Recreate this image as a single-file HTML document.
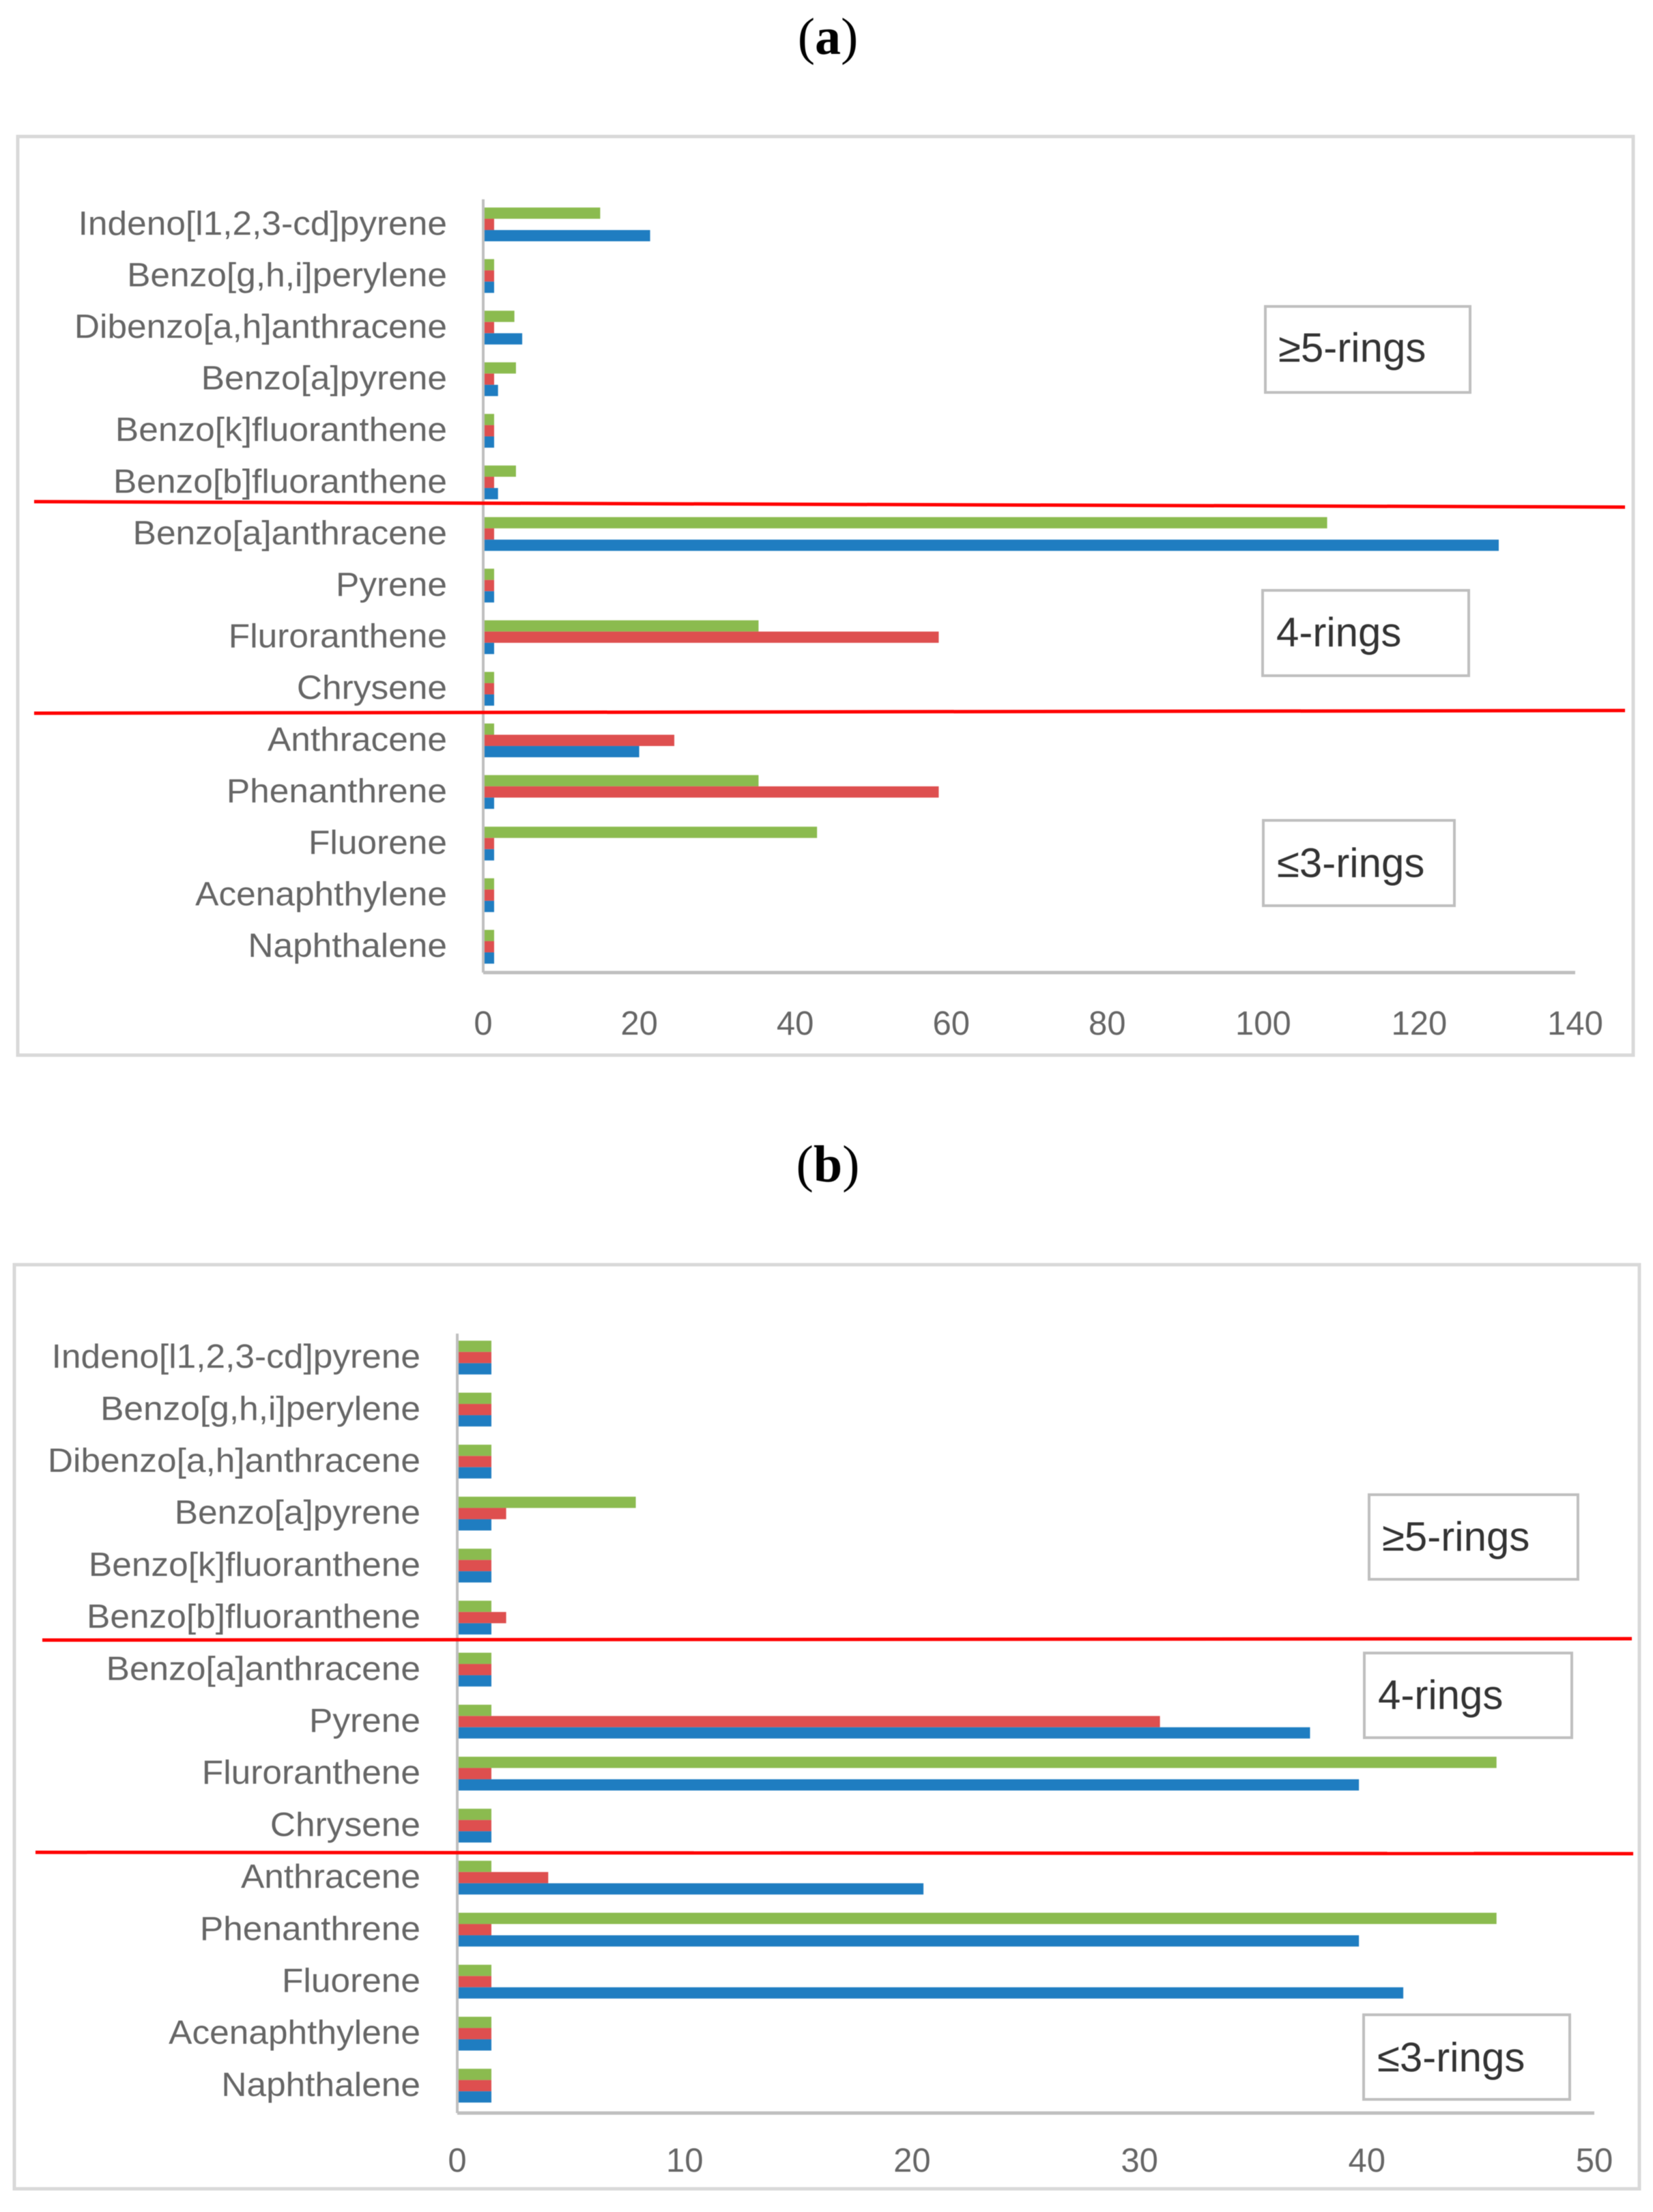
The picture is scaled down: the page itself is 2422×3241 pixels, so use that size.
<!DOCTYPE html>
<html lang="en">
<head>
<meta charset="utf-8">
<title>PAH concentration bar charts</title>
<style>
html,body{margin:0;padding:0;background:#fff;}
svg{display:block;filter:blur(0.6px);}
text{font-family:"Liberation Sans",sans-serif;}
.title{font-family:"Liberation Serif",serif;font-size:76px;fill:#000;}
</style>
</head>
<body>
<svg id="figure" xmlns="http://www.w3.org/2000/svg" width="2422" height="3241" viewBox="0 0 2422 3241">
  <rect width="2422" height="3241" fill="#fff"/>
  <text class="title" x="1213" y="79" text-anchor="middle">(<tspan font-weight="bold">a</tspan>)</text>
  <text class="title" x="1213" y="1731" text-anchor="middle">(<tspan font-weight="bold">b</tspan>)</text>
  <rect x="26" y="200" width="2367" height="1346" fill="#fff" stroke="#D9D9D9" stroke-width="5"/>
  <rect x="21" y="1853" width="2381" height="1354" fill="#fff" stroke="#D9D9D9" stroke-width="5"/>
  <g id="chart-a"></g>
  <g id="chart-b"></g>
  <g>
    <line x1="50" y1="735" x2="2381" y2="743" stroke="#f00" stroke-width="5"/>
    <line x1="50" y1="1045" x2="2381" y2="1041" stroke="#f00" stroke-width="5"/>
    <rect x="1854" y="449" width="300" height="126" fill="#fff" stroke="#BFBFBF" stroke-width="4"/>
    <text x="1873" y="530" font-size="60" fill="#333">≥5-rings</text>
    <rect x="1850" y="865" width="302" height="125" fill="#fff" stroke="#BFBFBF" stroke-width="4"/>
    <text x="1870" y="947" font-size="60" fill="#333">4-rings</text>
    <rect x="1851" y="1202" width="280" height="125" fill="#fff" stroke="#BFBFBF" stroke-width="4"/>
    <text x="1871" y="1285" font-size="60" fill="#333">≤3-rings</text>
  </g>
  <g>
    <line x1="62" y1="2403" x2="2391" y2="2401" stroke="#f00" stroke-width="5"/>
    <line x1="52" y1="2714" x2="2393" y2="2716" stroke="#f00" stroke-width="5"/>
    <rect x="2006" y="2190" width="306" height="124" fill="#fff" stroke="#BFBFBF" stroke-width="4"/>
    <text x="2025" y="2272" font-size="60" fill="#333">≥5-rings</text>
    <rect x="1999" y="2422" width="304" height="124" fill="#fff" stroke="#BFBFBF" stroke-width="4"/>
    <text x="2019" y="2504" font-size="60" fill="#333">4-rings</text>
    <rect x="1998" y="2952" width="302" height="124" fill="#fff" stroke="#BFBFBF" stroke-width="4"/>
    <text x="2018" y="3035" font-size="60" fill="#333">≤3-rings</text>
  </g>
</svg>
<script>
const categories = ["Indeno[l1,2,3-cd]pyrene","Benzo[g,h,i]perylene","Dibenzo[a,h]anthracene","Benzo[a]pyrene","Benzo[k]fluoranthene","Benzo[b]fluoranthene","Benzo[a]anthracene","Pyrene","Fluroranthene","Chrysene","Anthracene","Phenanthrene","Fluorene","Acenaphthylene","Naphthalene"];
const seriesNames = ["green","red","blue"];
const seriesColors = ["#8BBB4F","#DE4F4F","#1F7DC1"];

const panelAGreen = [15,1.4,4,4.2,1.4,4.2,108.2,1.4,35.3,1.4,1.4,35.3,42.8,1.4,1.4];
const panelARed   = [1.4,1.4,1.4,1.4,1.4,1.4,1.4,1.4,58.4,1.4,24.5,58.4,1.4,1.4,1.4];
const panelABlue  = [21.4,1.4,5,1.9,1.4,1.9,130.2,1.4,1.4,1.4,20,1.4,1.4,1.4,1.4];
const panelATicks = [0,20,40,60,80,100,120,140];

const panelBGreen = [1.5,1.5,1.5,7.85,1.5,1.5,1.5,1.5,45.7,1.5,1.5,45.7,1.5,1.5,1.5];
const panelBRed   = [1.5,1.5,1.5,2.15,1.5,2.15,1.5,30.9,1.5,1.5,4,1.5,1.5,1.5,1.5];
const panelBBlue  = [1.5,1.5,1.5,1.5,1.5,1.5,1.5,37.5,39.65,1.5,20.5,39.65,41.6,1.5,1.5];
const panelBTicks = [0,10,20,30,40,50];

const NS = "http://www.w3.org/2000/svg";

function make(tag, attrs, parent) {
  const el = document.createElementNS(NS, tag);
  for (const k in attrs) el.setAttribute(k, attrs[k]);
  parent.appendChild(el);
  return el;
}

function drawChart(root, prefix, layout, series, ticks) {
  const maxTick = ticks[ticks.length - 1];
  const xScale = v => layout.x0 + (v / maxTick) * (layout.x1 - layout.x0);
  const band = (layout.yBottom - layout.yTop) / categories.length;
  const bandCenter = i => layout.yTop + band * (i + 0.5);
  const barH = layout.barH;

  categories.forEach((name, i) => {
    const cy = bandCenter(i);
    const lab = make("text", {
      transform: "translate(" + layout.labelX + "," + (cy + 15) + ") scale(" + layout.labelSX + ",1)",
      "text-anchor": "end", "font-size": 49, fill: "#666"
    }, root);
    lab.textContent = name;
    
    

    series.forEach((vals, s) => {
      const bar = make("rect", {
        x: layout.x0 + 2,
        y: cy - barH * 1.5 + s * barH,
        width: Math.max(0, xScale(vals[i]) - layout.x0 - 2),
        height: barH,
        fill: seriesColors[s]
      }, root);
      
      
    });
  });

  const yAxis = make("line", {x1: layout.x0, y1: layout.axisTop, x2: layout.x0, y2: layout.axisBottom, stroke: "#BFBFBF", "stroke-width": 4}, root);
  
  

  const xAxis = make("line", {x1: layout.x0, y1: layout.axisBottom, x2: layout.x1, y2: layout.axisBottom, stroke: "#BFBFBF", "stroke-width": 5}, root);
  
  

  ticks.forEach(t => {
    const tick = make("text", {x: xScale(t), y: layout.tickY, "text-anchor": "middle", "font-size": 49, fill: "#666"}, root);
    tick.textContent = t;
    
    
  });
}

drawChart(document.getElementById("chart-a"), "panel-a",
  {x0: 708, x1: 2308, yTop: 291, yBottom: 1425, axisTop: 292, axisBottom: 1425, barH: 16.5, labelX: 655, labelSX: 1.05, tickY: 1516},
  [panelAGreen, panelARed, panelABlue], panelATicks);

drawChart(document.getElementById("chart-b"), "panel-b",
  {x0: 670, x1: 2336, yTop: 1951, yBottom: 3094, axisTop: 1954, axisBottom: 3096, barH: 16.5, labelX: 616, labelSX: 1.05, tickY: 3182},
  [panelBGreen, panelBRed, panelBBlue], panelBTicks);
</script>
</body>
</html>
